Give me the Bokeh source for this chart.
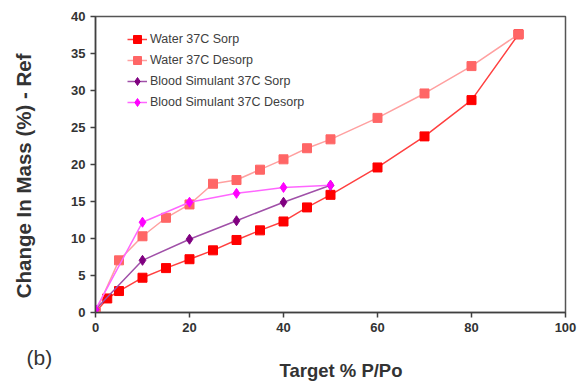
from bokeh.plotting import figure
from bokeh.models import Range1d, Legend, FixedTicker, Title
from bokeh.embed import file_html
from bokeh.resources import INLINE

# Data
water_x = [0, 2.5, 5, 10, 15, 20, 25, 30, 35, 40, 45, 50, 60, 70, 80, 90]
water_sorp = [0, 1.9, 2.9, 4.7, 6.0, 7.2, 8.4, 9.8, 11.1, 12.3, 14.2, 15.9, 19.6, 23.8, 28.7, 37.6]
water_desorp_x = [0, 5, 10, 15, 20, 25, 30, 35, 40, 45, 50, 60, 70, 80, 90]
water_desorp = [0, 7.05, 10.3, 12.8, 14.6, 17.4, 17.9, 19.3, 20.7, 22.2, 23.4, 26.3, 29.6, 33.3, 37.6]
blood_x = [0, 10, 20, 30, 40, 50]
blood_sorp = [0.4, 7.05, 9.9, 12.4, 14.9, 17.2]
blood_desorp = [0.4, 12.2, 14.9, 16.1, 16.9, 17.2]

p = figure(width=580, height=383, output_backend="svg", toolbar_location=None,
           x_range=Range1d(0, 100), y_range=Range1d(0, 40),
           min_border_left=95, min_border_right=15, min_border_top=16, min_border_bottom=71)

p.xgrid.visible = False
p.ygrid.visible = False
p.outline_line_color = "#555555"
p.outline_line_width = 1.5

r1l = p.line(water_x, water_sorp, line_color="#FF4040", line_width=1.5)
r1m = p.scatter(water_x, water_sorp, marker="square", size=9, fill_color="#FF0000", line_color="#FF0000")
r2l = p.line(water_desorp_x, water_desorp, line_color="#FFA0A0", line_width=1.5)
r2m = p.scatter(water_desorp_x, water_desorp, marker="square", size=9, fill_color="#FF6666", line_color="#FF6666")
r3l = p.line(blood_x, blood_sorp, line_color="#A050A8", line_width=1.5)
r3m = p.scatter(blood_x, blood_sorp, marker="diamond", size=10, fill_color="#800080", line_color="#800080")
r4l = p.line(blood_x, blood_desorp, line_color="#FF66FF", line_width=1.5)
r4m = p.scatter(blood_x, blood_desorp, marker="diamond", size=10, fill_color="#FF00FF", line_color="#FF00FF")

legend = Legend(items=[
    ("Water 37C Sorp", [r1l, r1m]),
    ("Water 37C Desorp", [r2l, r2m]),
    ("Blood Simulant 37C Sorp", [r3l, r3m]),
    ("Blood Simulant 37C Desorp", [r4l, r4m]),
], location=(32, 200), border_line_color=None, background_fill_alpha=0,
    padding=0, margin=0, spacing=1, glyph_width=20, glyph_height=20, label_height=20,
    label_standoff=3, label_text_font="Liberation Sans", label_text_font_size="12.5px",
    label_text_color="#404040")
p.add_layout(legend, "center")

for ax in (p.xaxis[0], p.yaxis[0]):
    ax.axis_line_color = "#404040"
    ax.axis_line_width = 1.5
    ax.major_tick_line_color = "#404040"
    ax.major_tick_line_width = 1.5
    ax.major_tick_out = 5
    ax.major_tick_in = 0
    ax.minor_tick_line_color = None
    ax.major_label_text_font = "Liberation Sans"
    ax.major_label_text_font_style = "bold"
    ax.major_label_text_font_size = "13px"
    ax.major_label_text_color = "#333333"
    ax.axis_label_text_font = "Liberation Sans"
    ax.axis_label_text_font_style = "bold"
    ax.axis_label_text_font_size = "20.5px"
    ax.axis_label_text_color = "#333333"

p.xaxis.ticker = FixedTicker(ticks=[0, 20, 40, 60, 80, 100])
p.yaxis.ticker = FixedTicker(ticks=[0, 5, 10, 15, 20, 25, 30, 35, 40])
p.yaxis.axis_label = "Change In Mass (%) - Ref" + "\u00a0" * 4
p.yaxis.axis_label_standoff = 33

# panel label and x-axis title as stacked titles below the axis
p.add_layout(Title(text="(b)", align="left", offset=-69, standoff=19,
                   text_font="Liberation Sans", text_font_size="21px",
                   text_font_style="normal", text_color="#333333"), "below")
p.add_layout(Title(text="Target % P/Po", align="left", offset=184, standoff=-38,
                   vertical_align="top",
                   text_font="Liberation Sans", text_font_size="18.5px",
                   text_font_style="bold", text_color="#333333"), "below")

open("out.html", "w").write(file_html(p, INLINE))
